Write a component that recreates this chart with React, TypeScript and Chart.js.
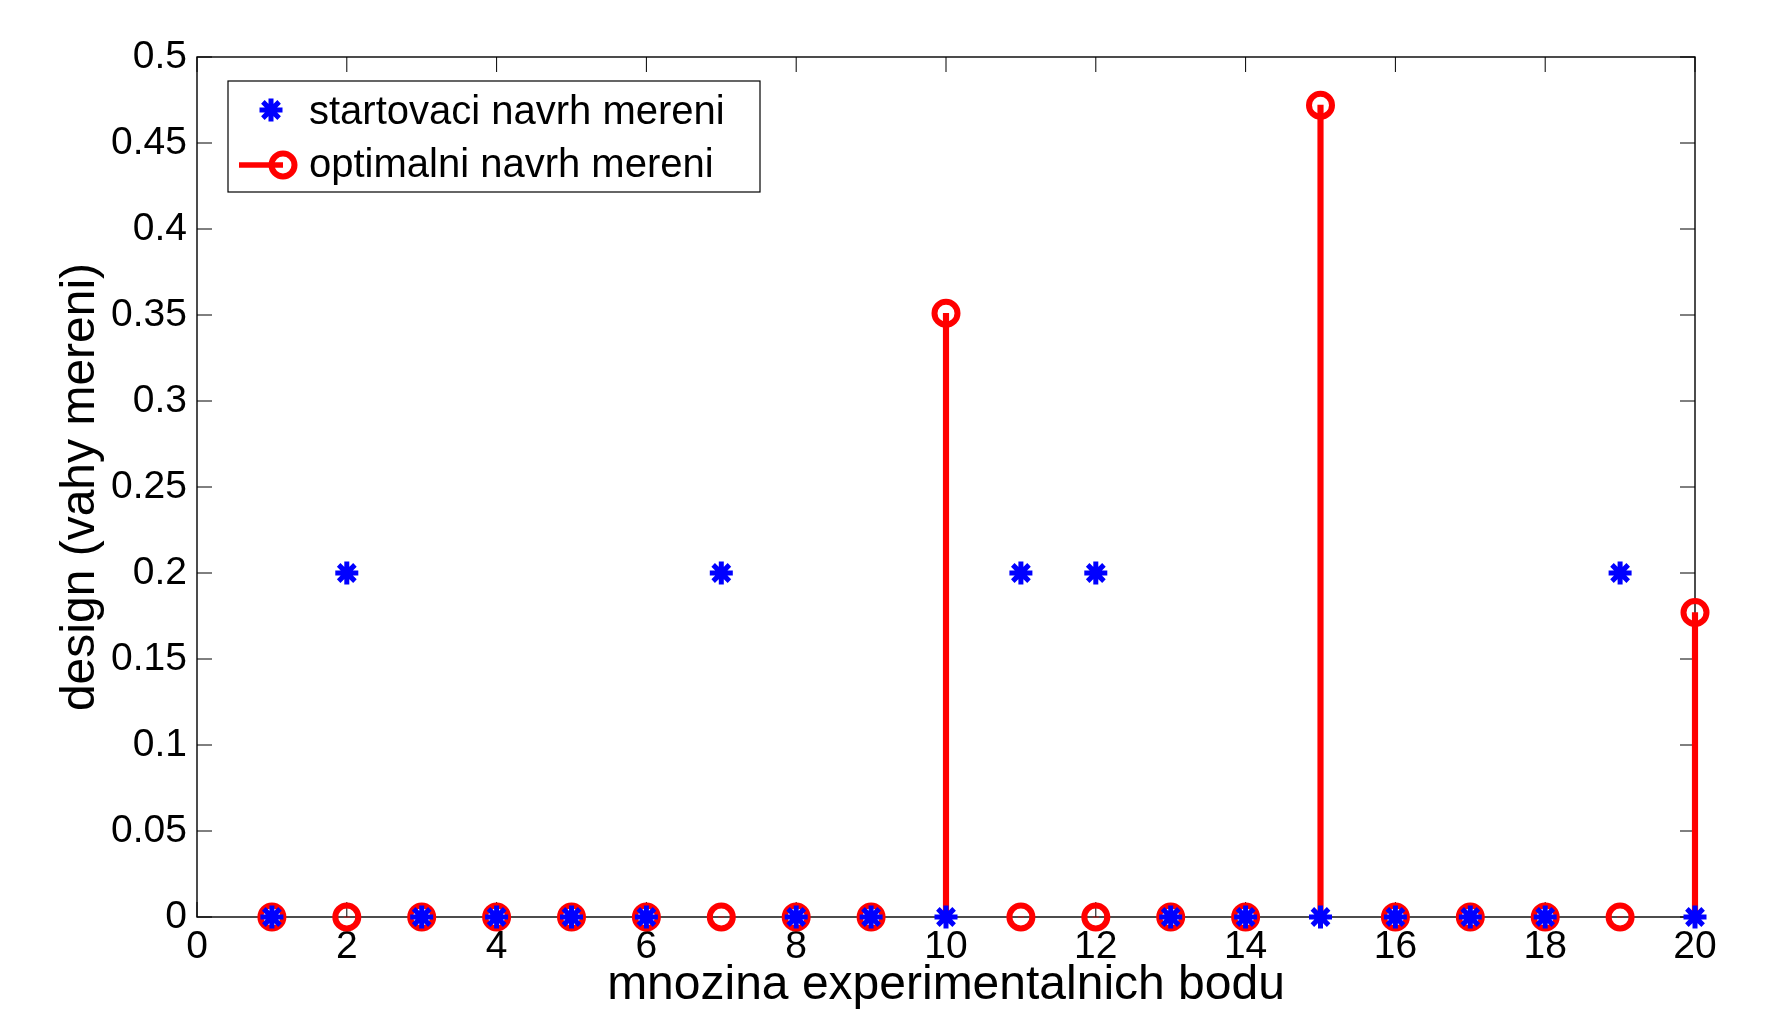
import React, { useEffect, useRef } from 'react';
import { Chart, registerables } from 'chart.js';
import { drawPoint } from 'chart.js/helpers';

Chart.register(...registerables);

// ---- data ----
const pointIndices = [1, 2, 3, 4, 5, 6, 7, 8, 9, 10, 11, 12, 13, 14, 15, 16, 17, 18, 19, 20];
const startDesign = [0, 0.2, 0, 0, 0, 0, 0.2, 0, 0, 0, 0.2, 0.2, 0, 0, 0, 0, 0, 0, 0.2, 0];
const optimalDesign = [0, 0, 0, 0, 0, 0, 0, 0, 0, 0.351, 0, 0, 0, 0, 0.472, 0, 0, 0, 0, 0.177];
const xTickValues = [0, 2, 4, 6, 8, 10, 12, 14, 16, 18, 20];
const xTickLabels = ['0', '2', '4', '6', '8', '10', '12', '14', '16', '18', '20'];
const yTickValues = [0, 0.05, 0.1, 0.15, 0.2, 0.25, 0.3, 0.35, 0.4, 0.45, 0.5];
const yTickLabels = ['0', '0.05', '0.1', '0.15', '0.2', '0.25', '0.3', '0.35', '0.4', '0.45', '0.5'];
const seriesLabels = ['startovaci navrh mereni', 'optimalni navrh mereni'];
const xAxisTitle = 'mnozina experimentalnich bodu';
const yAxisTitle = 'design (vahy mereni)';

const BLUE = '#0000ff';
const RED = '#ff0000';
const FONT = '"Liberation Sans", Arial, Helvetica, sans-serif';

const framePlugin = {
  id: 'matlabFrame',
  beforeDatasetsDraw(chart: any) {
    const { ctx, chartArea: a, scales } = chart;
    const tick = 15;
    ctx.save();
    ctx.strokeStyle = '#000';
    ctx.lineWidth = 1;
    ctx.beginPath();
    xTickValues.forEach((v) => {
      const px = scales.x.getPixelForValue(v);
      ctx.moveTo(px, a.bottom);
      ctx.lineTo(px, a.bottom - tick);
      ctx.moveTo(px, a.top);
      ctx.lineTo(px, a.top + tick);
    });
    yTickValues.forEach((v) => {
      const py = scales.y.getPixelForValue(v);
      ctx.moveTo(a.left, py);
      ctx.lineTo(a.left + tick, py);
      ctx.moveTo(a.right, py);
      ctx.lineTo(a.right - tick, py);
    });
    ctx.stroke();
    ctx.lineWidth = 1.4;
    ctx.strokeRect(a.left, a.top, a.right - a.left, a.bottom - a.top);
    ctx.restore();
  },
};

const legendPlugin = {
  id: 'boxLegend',
  afterDraw(chart: any) {
    const { ctx } = chart;
    const ds = chart.data.datasets;
    ctx.save();
    ctx.fillStyle = '#ffffff';
    ctx.fillRect(228, 81, 532, 111);
    ctx.strokeStyle = '#000';
    ctx.lineWidth = 1.2;
    ctx.strokeRect(228, 81, 532, 111);

    // row 1: asterisk
    ctx.strokeStyle = BLUE;
    ctx.fillStyle = BLUE;
    ctx.lineWidth = 5;
    drawPoint(ctx, { pointStyle: 'star', radius: 11.5, rotation: 0, borderWidth: 5 }, 271, 110);

    // row 2: stem line + circle
    ctx.strokeStyle = RED;
    ctx.lineWidth = 5.5;
    ctx.beginPath();
    ctx.moveTo(239, 165);
    ctx.lineTo(283, 165);
    ctx.stroke();
    ctx.fillStyle = 'rgba(0,0,0,0)';
    ctx.lineWidth = 6;
    drawPoint(ctx, { pointStyle: 'circle', radius: 11.5, rotation: 0, borderWidth: 6 }, 283, 165);

    ctx.fillStyle = '#000';
    ctx.font = `40px ${FONT}`;
    ctx.textBaseline = 'middle';
    ctx.textAlign = 'left';
    ctx.fillText(ds[0].label, 309, 113);
    ctx.fillText(ds[1].label, 309, 166);
    ctx.restore();
  },
};

export default function App() {
  const canvasRef = useRef<HTMLCanvasElement | null>(null);

  useEffect(() => {
    const canvas = canvasRef.current;
    if (!canvas) return;
    Chart.defaults.color = '#000';
    const chart = new Chart(canvas, {
      type: 'scatter',
      data: {
        datasets: [
          {
            type: 'scatter',
            label: seriesLabels[0],
            data: pointIndices.map((x, i) => ({ x, y: startDesign[i] })),
            pointStyle: 'star',
            pointRadius: 11.5,
            pointBorderWidth: 5,
            pointBorderColor: BLUE,
            pointBackgroundColor: BLUE,
            borderColor: BLUE,
            backgroundColor: BLUE,
            showLine: false,
            clip: false,
            order: 0,
          } as any,
          {
            type: 'scatter',
            label: seriesLabels[1],
            data: pointIndices.map((x, i) => ({ x, y: optimalDesign[i] })),
            pointStyle: 'circle',
            pointRadius: 11.5,
            pointBorderWidth: 6,
            pointBorderColor: RED,
            pointBackgroundColor: 'rgba(0,0,0,0)',
            borderColor: RED,
            backgroundColor: 'rgba(0,0,0,0)',
            showLine: false,
            clip: false,
            order: 1,
          } as any,
          {
            type: 'bar',
            label: 'stems',
            data: pointIndices.map((x, i) => ({ x, y: optimalDesign[i] })),
            backgroundColor: RED,
            borderWidth: 0,
            barThickness: 5.5,
            grouped: false,
            clip: false,
            order: 2,
          } as any,
        ],
      },
      options: {
        animation: false,
        responsive: false,
        devicePixelRatio: 1,
        layout: { padding: { top: 57, right: 74, left: 0, bottom: 0 } },
        plugins: {
          legend: { display: false },
          tooltip: { enabled: false },
        },
        scales: {
          x: {
            type: 'linear',
            min: 0,
            max: 20,
            offset: false,
            grid: { display: false, drawTicks: false },
            border: { display: false },
            afterBuildTicks: (scale: any) => {
              scale.ticks = xTickValues.map((v) => ({ value: v }));
            },
            afterFit: (scale: any) => {
              scale.height = 1009 - 917;
            },
            ticks: {
              padding: 7,
              font: { family: FONT, size: 39 },
              color: '#000',
              maxRotation: 0,
              autoSkip: false,
              callback: (v: any) => {
                const i = xTickValues.indexOf(Number(v));
                return i >= 0 ? xTickLabels[i] : '';
              },
            },
            title: {
              display: true,
              text: xAxisTitle,
              color: '#000',
              font: { family: FONT, size: 48 },
              padding: { top: 0, bottom: -6 },
            },
          },
          y: {
            type: 'linear',
            min: 0,
            max: 0.5,
            grid: { display: false, drawTicks: false },
            border: { display: false },
            afterBuildTicks: (scale: any) => {
              scale.ticks = yTickValues.map((v) => ({ value: v }));
            },
            afterFit: (scale: any) => {
              scale.width = 197;
            },
            ticks: {
              padding: 10,
              font: { family: FONT, size: 39 },
              color: '#000',
              autoSkip: false,
              callback: (v: any) => {
                const i = yTickValues.findIndex((t) => Math.abs(t - Number(v)) < 1e-9);
                return i >= 0 ? yTickLabels[i] : '';
              },
            },
            title: {
              display: true,
              text: yAxisTitle,
              color: '#000',
              font: { family: FONT, size: 48 },
              padding: { top: 52, bottom: 0 },
            },
          },
        },
      },
      plugins: [framePlugin, legendPlugin],
    } as any);
    return () => chart.destroy();
  }, []);

  return (
    <div style={{ position: 'absolute', left: 0, top: 0, width: 1769, height: 1009, background: '#fff' }}>
      <canvas ref={canvasRef} width={1769} height={1009} style={{ display: 'block', width: 1769, height: 1009 }} />
    </div>
  );
}
